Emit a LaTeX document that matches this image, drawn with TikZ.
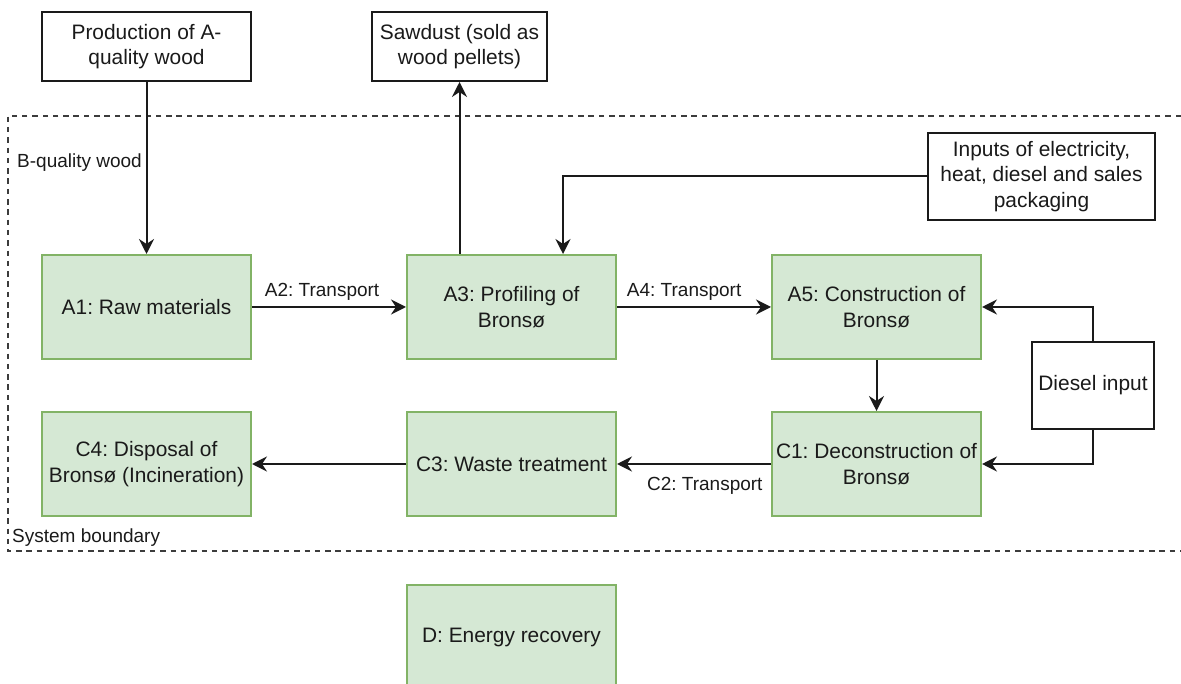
\documentclass[tikz,border=0pt]{standalone}
\usepackage{fontspec}
\setmainfont{Liberation Sans}
\usetikzlibrary{arrows.meta,calc}
\definecolor{gfill}{HTML}{D5E8D4}
\definecolor{gline}{HTML}{82B366}
\definecolor{ink}{HTML}{1A1A1A}
\frenchspacing
\begin{document}
\begin{tikzpicture}[x=1pt,y=-1pt,
  stage/.style={draw=gline,fill=gfill,line width=2pt,minimum width=209pt,minimum height=104pt,
    inner sep=2pt,align=center,font=\fontsize{20.9}{25.5}\selectfont,text=ink},
  wbox/.style={draw=ink,fill=white,line width=2pt,inner sep=2pt,align=center,
    font=\fontsize{20.9}{25.5}\selectfont,text=ink},
  conn/.style={draw=ink,line width=2pt,-{Stealth[length=15pt,width=15pt,inset=5pt]}},
  elabel/.style={font=\fontsize{19}{23}\selectfont,text=ink,inner sep=0pt,anchor=base},
  bound/.style={draw=ink!85,line width=2pt,dash pattern=on 5.5pt off 4.8pt}
]
\useasboundingbox (0,0) rectangle (1181,684);
% system boundary
\draw[bound] (1181,116) -- (7.5,116) -- (7.5,551) -- (1181,551);
\node[elabel,anchor=base west] (sb) at (12,542) {System boundary};
% nodes
\node[wbox,minimum width=209pt,minimum height=69pt] (prod) at (146.5,46.5) {Production of A-\\quality wood};
\node[wbox,minimum width=175pt,minimum height=69pt] (saw) at (459.5,46.5) {Sawdust (sold as\\wood pellets)};
\node[wbox,minimum width=227pt,minimum height=87pt] (inp) at (1041.5,176.5) {Inputs of electricity,\\heat, diesel and sales\\packaging};
\node[stage] (a1) at (146.5,307) {A1: Raw materials};
\node[stage] (a3) at (511.5,307) {A3: Profiling of\\Brons\o};
\node[stage] (a5) at (876.5,307) {A5: Construction of\\Brons\o};
\node[wbox,minimum width=122pt,minimum height=87pt] (dsl) at (1093,385.5) {Diesel input};
\node[stage] (c4) at (146.5,464) {C4: Disposal of\\Brons\o{} (Incineration)};
\node[stage] (c3) at (511.5,464) {C3: Waste treatment};
\node[stage] (c1) at (876.5,464) {C1: Deconstruction of\\Brons\o};
\node[stage] (d) at (511.5,637) {D: Energy recovery};
% labels
\node[elabel,anchor=base west] (bq) at (17,168) {B-quality wood};
% connectors
\draw[conn] (prod.south) -- (a1.north);
\draw[conn] (saw.south |- a3.north) -- (saw.south);
\draw[conn] (inp.west) -| ([xshift=51.5pt]a3.north);
\draw[conn] (a1.east) -- node[elabel,pos=.455,yshift=10pt] {A2: Transport} (a3.west);
\draw[conn] (a3.east) -- node[elabel,pos=.436,yshift=10pt] {A4: Transport} (a5.west);
\draw[conn] (a5.south) -- (c1.north);
\draw[conn] (dsl.north) |- (a5.east);
\draw[conn] (dsl.south) |- (c1.east);
\draw[conn] (c1.west) -- node[elabel,pos=.43,yshift=-26pt] {C2: Transport} (c3.east);
\draw[conn] (c3.west) -- (c4.east);
\end{tikzpicture}
\end{document}
